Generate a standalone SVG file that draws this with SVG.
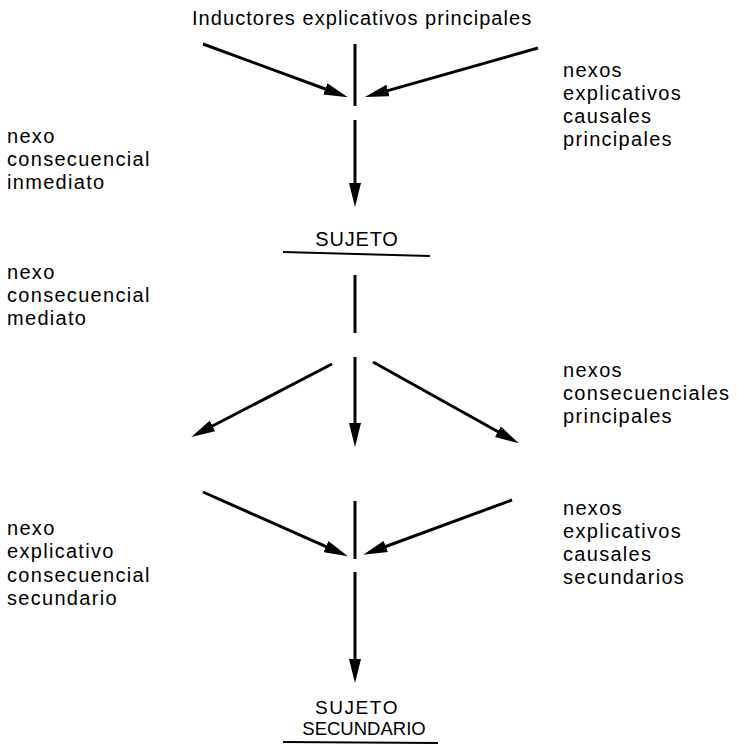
<svg xmlns="http://www.w3.org/2000/svg" width="738" height="745" viewBox="0 0 738 745">
<style>
text{font-family:"Liberation Sans",Arial,sans-serif;font-size:20px;fill:#000;letter-spacing:1.3px}
.t{letter-spacing:1.05px}
.c{text-anchor:middle;letter-spacing:0.8px}
.s1{text-anchor:middle;font-size:19px;letter-spacing:1.6px}
.s2{text-anchor:middle;font-size:18.5px;letter-spacing:0px}
.ln{stroke:#000;stroke-width:3;fill:none}
.ar{stroke:#000;stroke-width:3;fill:none;marker-end:url(#ah)}
.ul{stroke:#000;stroke-width:2;fill:none}
</style>
<defs>
<marker id="ah" markerUnits="userSpaceOnUse" markerWidth="24" markerHeight="12" viewBox="0 0 22 11" refX="12" refY="5.5" orient="auto">
<path d="M0,0 L22,5.5 L0,11 z" fill="#000"/>
</marker>
</defs>
<rect width="738" height="745" fill="#fff"/>
<g id="title"><text class="t" x="192" y="25">Inductores explicativos principales</text></g>
<g id="lbl-nexos-expl-causales-princ">
<text x="563" y="77">nexos</text><text x="563" y="100">explicativos</text><text x="563" y="123">causales</text><text x="563" y="146">principales</text>
</g>
<g id="lbl-nexo-inmediato">
<text x="7" y="143">nexo</text><text x="7" y="166">consecuencial</text><text x="7" y="189">inmediato</text>
</g>
<g id="sujeto"><text class="c" x="357" y="246">SUJETO</text><path class="ul" d="M283,252 L430,256"/></g>
<g id="lbl-nexo-mediato">
<text x="7" y="279">nexo</text><text x="7" y="302">consecuencial</text><text x="7" y="325">mediato</text>
</g>
<g id="lbl-nexos-consec-princ">
<text x="563" y="377">nexos</text><text x="563" y="400">consecuenciales</text><text x="563" y="423">principales</text>
</g>
<g id="lbl-nexo-expl-consec-sec">
<text x="7" y="535">nexo</text><text x="7" y="558">explicativo</text><text x="7" y="582">consecuencial</text><text x="7" y="605">secundario</text>
</g>
<g id="lbl-nexos-expl-causales-sec">
<text x="563" y="515">nexos</text><text x="563" y="538">explicativos</text><text x="563" y="561">causales</text><text x="563" y="584">secundarios</text>
</g>
<g id="sujeto-secundario"><text class="s1" x="357" y="714">SUJETO</text><text class="s2" x="364" y="735">SECUNDARIO</text><path class="ul" d="M283,742 L438,743"/></g>
<g id="connectors">
<path class="ar" d="M203,44 L337.6,93.5"/>
<path class="ar" d="M538,48 L375.4,94.1"/>
<path class="ln" d="M355,44 L355,106"/>
<path class="ar" d="M355,120 L355,196"/>
<path class="ln" d="M355,275 L355,333"/>
<path class="ar" d="M355,357 L355,436"/>
<path class="ar" d="M332,364 L200.9,432"/>
<path class="ar" d="M373,362 L509.3,438"/>
<path class="ar" d="M203,492 L337.9,551.9"/>
<path class="ar" d="M512,500 L373.5,551"/>
<path class="ln" d="M355,501 L355,559"/>
<path class="ar" d="M355,572 L355,672"/>
</g>
</svg>
